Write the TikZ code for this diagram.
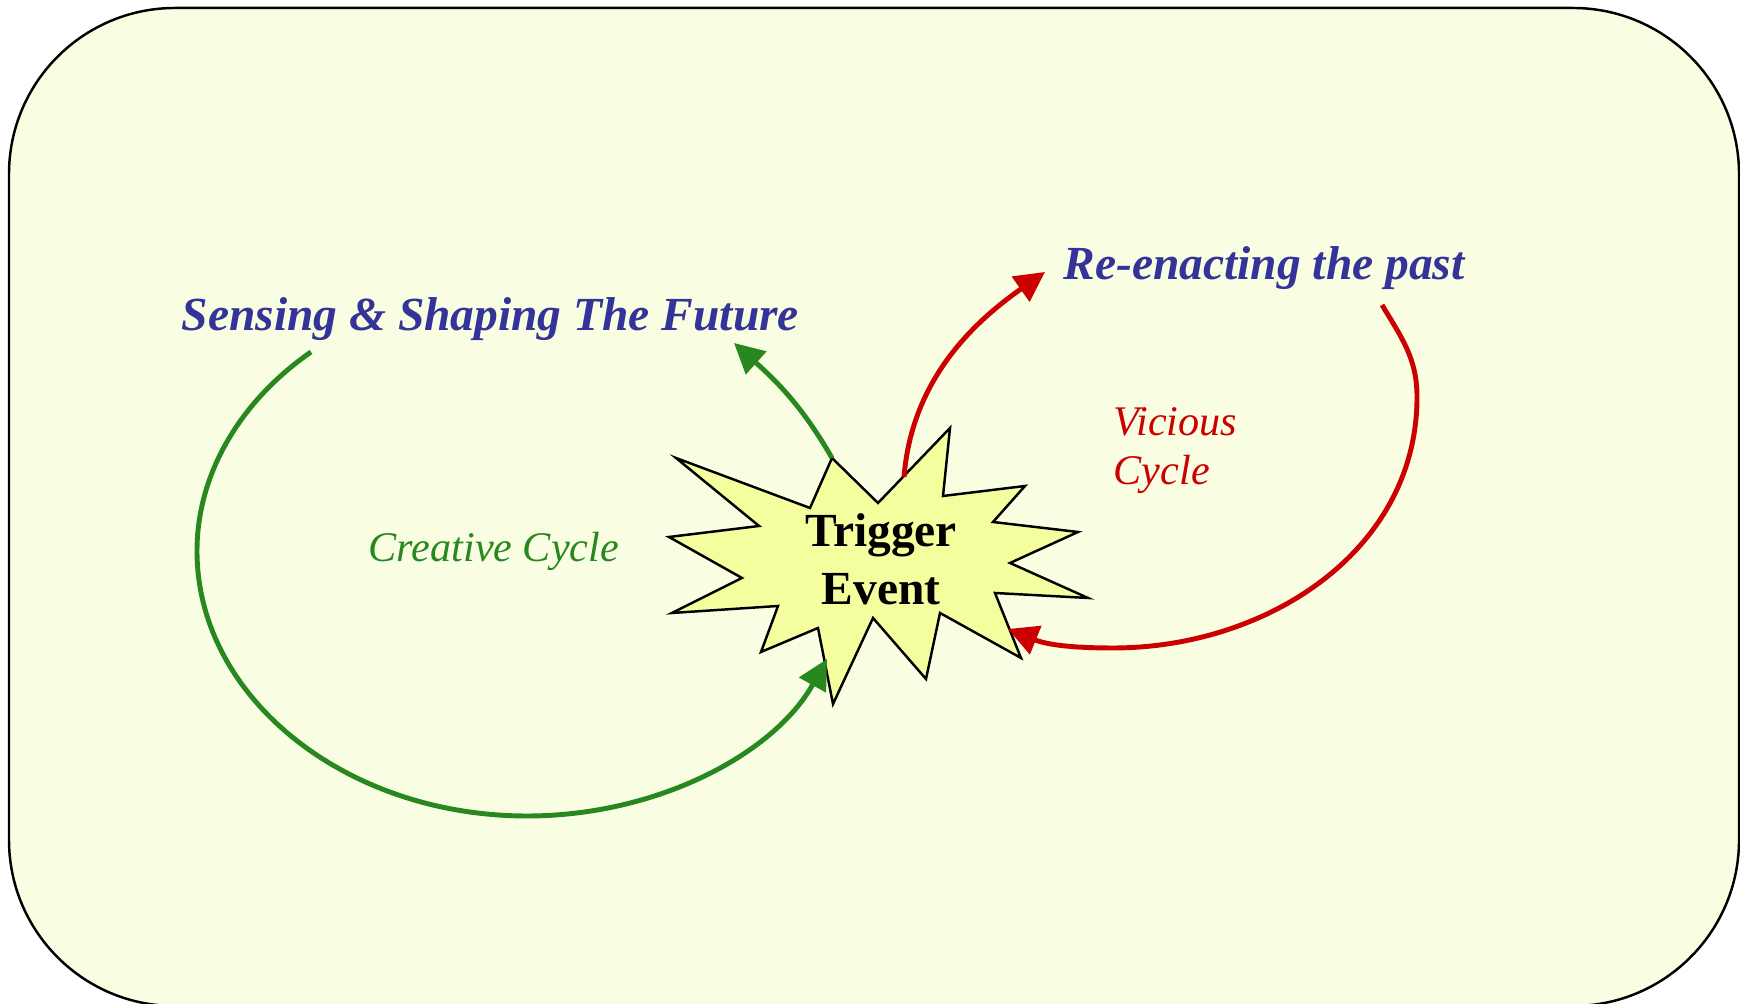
\documentclass[tikz,border=0pt]{standalone}
\usepackage{fontspec}
\setmainfont{Liberation Serif}
\usetikzlibrary{arrows.meta}

\definecolor{panelbg}{RGB}{249,254,226}
\definecolor{burstfill}{RGB}{245,254,158}
\definecolor{labelblue}{RGB}{51,51,153}
\definecolor{cyclegreen}{RGB}{40,135,30}
\definecolor{cyclered}{RGB}{204,0,0}

\tikzset{
  panel/.style={draw=black, line width=0.7pt, fill=panelbg, rounded corners=1.66cm},
  burst/.style={draw=black, line width=0.7pt, fill=burstfill},
  goal/.style={text=labelblue, font=\fontsize{13.5}{16}\selectfont\bfseries\itshape, inner sep=0pt},
  cyclename/.style={font=\fontsize{12}{14.2}\selectfont\itshape, inner sep=0pt},
  loopgreen/.style={draw=cyclegreen, line width=1.4pt, -{Triangle[length=8.5pt,width=8.5pt]}},
  loopred/.style={draw=cyclered, line width=1.4pt, -{Triangle[length=8.5pt,width=8.5pt]}},
}

\begin{document}
\begin{tikzpicture}[x=0.01cm, y=0.01cm]
\useasboundingbox (0,0) rectangle (1740,1004);
\draw[panel] (9,-2) rectangle (1739,996);

% the burst
\draw[burst] (832,546) -- (878,501) -- (950,576) -- (943,508) -- (1025,518) -- (993,482)
  -- (1078,472) -- (1010,441) -- (1088,406) -- (995,411) -- (1021,346) -- (940,391)
  -- (926,325) -- (873,386) -- (833,300) -- (818,376) -- (761,352) -- (778,398)
  -- (672,391) -- (742,426) -- (669,467) -- (759,478) -- (676,546) -- (810,496) -- cycle;
\node[font=\fontsize{13.5}{16.5}\selectfont\bfseries, align=center, inner sep=0pt] (trig) at (881,445) {Trigger\\Event};

% labels
\node[goal, anchor=base west] (future) at (181,673) {Sensing \& Shaping The Future};
\node[goal, anchor=base west] (past) at (1063,724) {Re-enacting the past};
\node[cyclename, text=cyclegreen, anchor=base west] (creative) at (368,442) {Creative Cycle};
\node[cyclename, text=cyclered, anchor=base west, align=left] (vicious) at (1113,519) {Vicious\\Cycle};

% creative cycle
\coordinate (creaStart) at (311,652);
\coordinate (creaLeft) at (197,453);
\coordinate (creaLow) at (527,188);
\coordinate (creaEnd) at (827,345);
\draw[loopgreen] (creaStart) .. controls +(-72,-50) and +(0,76) .. (creaLeft)
  .. controls +(0,-146) and +(-182,0) .. (creaLow)
  .. controls +(130,0) and +(-53,-95) .. (creaEnd);
\coordinate (futStart) at (832,546);
\coordinate (futEnd) at (734,661);
\draw[loopgreen] (futStart) to[out=120, in=-42] (futEnd);

% vicious cycle
\coordinate (pastStart) at (904,527);
\coordinate (pastEnd) at (1045,732);
\draw[loopred] (pastStart) .. controls +(8,100) and +(-68,-48) .. (pastEnd);
\coordinate (vicStart) at (1382,699);
\coordinate (vicRight) at (1417,607);
\coordinate (vicLow) at (1113,356);
\coordinate (vicEnd) at (1008,375);
\draw[loopred] (vicStart) to[out=-59, in=90] (vicRight) to[out=-90, in=0] (vicLow)
  to[out=180, in=-22] (vicEnd);
\end{tikzpicture}
\end{document}
